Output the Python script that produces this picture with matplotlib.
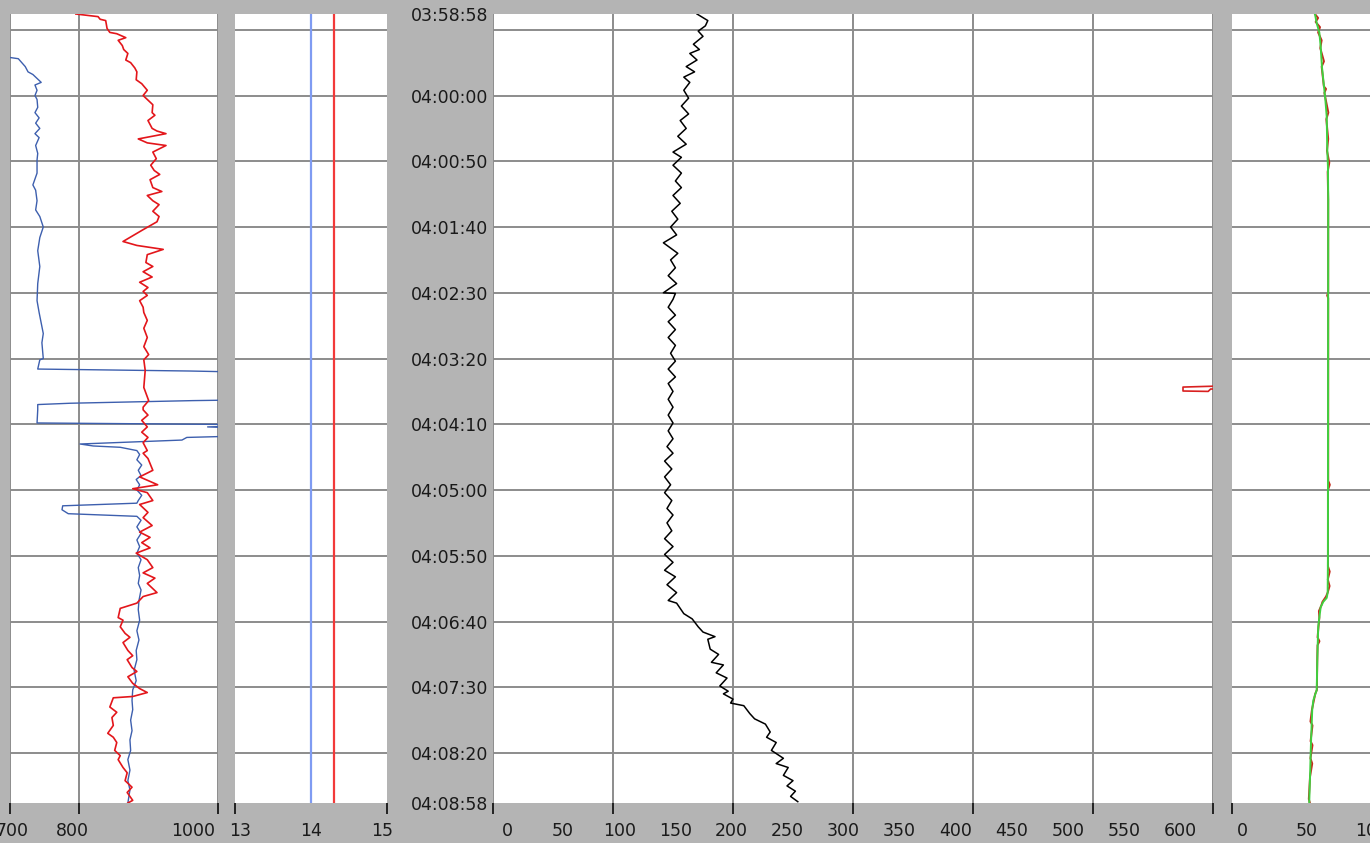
import matplotlib
matplotlib.use("Agg")
import matplotlib.pyplot as plt
import numpy as np

# depth axis is time: seconds after 03:58:58
start_clock = 3 * 3600 + 58 * 60 + 58
span = 600
grid_times = np.arange(12, span, 50)

# track 1 (700..1000)
red1_t = [0, 2, 4, 5, 11, 14, 15, 18, 20, 24, 27, 30, 35, 37, 41, 44, 50, 53, 58, 62,
          65, 69, 75, 77, 81, 87, 89, 91, 95, 98, 100, 105, 110, 115, 119, 122, 126, 132, 135, 138,
          142, 145, 150, 154, 158, 164, 173, 176, 178, 179, 183, 189, 192, 196, 200, 204, 208, 211, 214, 218,
          223, 227, 233, 239, 246, 253, 259, 263, 271, 284, 294, 299, 301, 305, 309, 314, 318, 322, 326, 332,
          334, 338, 347, 352, 358, 361, 364, 370, 373, 379, 383, 389, 394, 398, 402, 406, 410, 415, 421, 425,
          429, 433, 440, 443, 448, 452, 459, 461, 466, 471, 474, 478, 484, 488, 491, 497, 500, 504, 509, 513,
          516, 519, 520, 527, 531, 535, 541, 547, 550, 554, 560, 564, 567, 573, 577, 583, 588, 592, 598, 600]
red1_v = [795, 827, 830, 838, 840, 844, 854, 867, 856, 862, 864, 870, 867, 874, 880, 883, 882, 890, 898, 892,
          898, 906, 905, 909, 899, 905, 912, 925, 885, 898, 925, 906, 911, 903, 908, 916, 902, 906, 919, 898,
          906, 915, 906, 915, 912, 892, 863, 883, 909, 921, 898, 896, 906, 892, 905, 887, 899, 892, 898, 887,
          892, 893, 898, 893, 898, 893, 900, 893, 895, 893, 900, 892, 892, 899, 890, 898, 890, 899, 892, 898,
          892, 899, 906, 887, 913, 877, 898, 906, 887, 899, 892, 905, 887, 902, 890, 902, 882, 898, 906, 892,
          909, 898, 912, 892, 883, 859, 856, 863, 859, 866, 873, 863, 870, 877, 869, 876, 883, 870, 877, 887,
          898, 877, 849, 844, 854, 847, 849, 841, 849, 854, 851, 859, 856, 863, 869, 866, 876, 869, 877, 870]

blue1_t = [33, 34, 37, 40, 44, 46, 49, 52, 54, 58, 62, 65, 71, 75, 79, 83, 87, 91, 94, 100,
           106, 111, 121, 130, 134, 142, 149, 154, 162, 170, 180, 192, 205, 218, 227, 235, 243, 250, 262, 263,
           270, 271.5, 273, 293, 294, 296, 297, 301, 311, 312.5, 314, 316, 320, 322, 324, 327, 328.5, 329.5, 332, 335,
           339, 343, 347, 351, 354, 358, 362, 366, 370, 372, 374, 377, 380, 382, 385, 390, 395, 400, 405, 410,
           415, 421, 427, 433, 438, 446, 453, 461, 469, 476, 484, 491, 499, 507, 514, 522, 529, 537, 545, 552,
           560, 567, 575, 583, 590, 600]
blue1_v = [699, 712, 717, 722, 726, 733, 739, 745, 736, 739, 736, 739, 740, 736, 742, 737, 743, 736, 742, 737,
           740, 739, 739, 733, 737, 739, 737, 743, 748, 743, 740, 743, 740, 739, 742, 745, 748, 746, 748, 743,
           740, 960, 1100, 1100, 964, 787, 740, 740, 739, 1100, 985, 1100, 1100, 955, 948, 801, 820, 859, 883, 887,
           883, 890, 885, 889, 882, 887, 883, 890, 885, 883, 776, 775, 784, 883, 889, 883, 889, 883, 887, 883,
           889, 885, 887, 885, 889, 886, 885, 887, 883, 886, 882, 883, 879, 882, 877, 876, 877, 874, 876, 873,
           874, 870, 873, 870, 873, 870]

# track 2 (13..15): two constant readings
flat_t = [0, span]
blue2_v = [14.0, 14.0]
red2_v = [14.3, 14.3]

# track 3 (0..600)
black3_t = [0, 5, 9, 13, 17, 23, 27, 30, 35, 40, 44, 48, 52, 58, 64, 70, 76, 81, 87, 93,
            99, 105, 109, 115, 121, 127, 132, 138, 144, 150, 156, 162, 168, 174, 182, 187, 193, 199, 205, 212,
            212.5, 217, 223, 229, 234, 240, 246, 252, 258, 264, 270, 276, 281, 287, 293, 299, 305, 311, 317, 323,
            329, 334, 340, 346, 352, 358, 364, 370, 376, 381, 387, 393, 399, 405, 411, 417, 423, 428, 434, 440,
            446, 448, 456, 460, 466, 470, 473.5, 475.5, 483, 487, 493, 495, 501, 505, 511, 515, 517, 521, 524, 526,
            532, 536, 540, 546, 550, 554, 560, 566, 570, 573, 579, 583, 587, 591, 595, 599]
black3_v = [170, 179, 177, 171, 175, 167, 172, 164, 170, 161, 168, 159, 164, 159, 163, 157, 163, 156, 161, 154,
            161, 150, 157, 150, 157, 152, 157, 150, 156, 149, 154, 148, 153, 142, 154, 148, 152, 146, 153, 142,
            152, 150, 146, 152, 146, 152, 146, 152, 148, 152, 146, 152, 146, 150, 146, 150, 146, 150, 146, 150,
            145, 150, 143, 149, 143, 148, 143, 149, 145, 150, 145, 149, 143, 150, 143, 150, 143, 152, 145, 153,
            146, 153, 159, 166, 171, 175, 185, 179, 181, 188, 182, 192, 186, 195, 189, 196, 192, 200, 198, 209,
            214, 218, 227, 231, 228, 236, 232, 242, 236, 246, 242, 250, 245, 252, 248, 254]
red3_t = [282, 283.7, 286.7, 287, 285.2, 284.8]
red3_v = [640, 575, 575, 596, 598, 640]

# track 4 (0..150)
green4_t = [0, 7, 14, 25, 40, 55, 65, 78, 103, 116, 141, 415, 440, 444, 447, 451, 459, 466, 491, 514,
            518, 522, 529, 554, 580, 600]
green4_v = [60.7, 62.0, 63.9, 64.9, 65.8, 67.3, 68.3, 69.3, 69.7, 70.2, 70.4, 70.2, 70.0, 69.3, 66.8, 64.9,
            63.9, 63.1, 62.4, 62.0, 60.7, 59.5, 58.7, 57.8, 57.1, 56.5]
red4_t = [0, 3, 6, 10, 14, 20, 26, 36, 40, 55, 57, 60, 75, 80, 95, 104, 113, 120, 141, 212,
          214, 216, 355, 358, 362, 420, 424, 430, 435, 440, 443, 447, 450, 454, 459, 474, 477, 480, 491, 514,
          517, 520, 529, 538, 541, 553, 556, 566, 570, 580, 597, 600]
red4_v = [60.7, 63.0, 61.2, 64.4, 63.0, 65.6, 64.6, 67.3, 65.6, 67.2, 68.8, 67.6, 70.5, 69.0, 70.4, 69.5,
          71.2, 70.0, 70.4, 70.4, 69.6, 70.4, 70.4, 71.6, 70.2, 70.2, 71.5, 70.1, 71.4, 70.0, 68.8, 66.2,
          65.3, 63.6, 63.9, 62.6, 64.0, 62.6, 62.4, 62.1, 60.9, 60.3, 58.5, 57.4, 58.9, 57.5, 58.9, 57.4,
          58.7, 57.1, 56.2, 57.0]

labels1 = [700, 800, 1000]
labels2 = [13, 14, 15]
labels3 = list(range(0, 601, 50))
labels4 = [0, 50, 100]


def clock(sec):
    s = start_clock + int(sec)
    return "%02d:%02d:%02d" % (s // 3600, s // 60 % 60, s % 60)


def squeezed(values, first, last):
    # the scale labels sit a little inside the true tick positions
    values = np.asarray(values, float)
    return first + (values - values[0]) * (last - first) / (values[-1] - values[0])


bg = "#b4b4b4"
grid_c = "#8c8c8c"
ink = "#1a1a1a"
fs = 12.5
W, H = 1370, 843
top_px, bot_px = 14, 803

fig = plt.figure(figsize=(W / 100, H / 100), dpi=100, facecolor=bg)


def track(left_px, width_px, xlim, major, labels, label_pos, xgrid):
    ax = fig.add_axes([left_px / W, 1 - bot_px / H, width_px / W, (bot_px - top_px) / H])
    ax.set_facecolor("white")
    for s in ax.spines.values():
        s.set_visible(False)
    ax.set_xlim(*xlim)
    ax.set_ylim(span, 0)
    ax.set_axisbelow(True)
    ax.set_yticks(grid_times, labels=[""] * len(grid_times))
    ax.tick_params(axis="y", which="both", length=0)
    ax.grid(True, axis="y", color=grid_c, lw=1.4)
    ax.set_xticks(major, labels=[""] * len(major))
    ax.set_xticks(label_pos, labels=[str(v) for v in labels], minor=True)
    ax.tick_params(axis="x", which="major", length=8, width=1.4, color="#222222", direction="out")
    ax.tick_params(axis="x", which="minor", length=0, pad=14, labelsize=fs, labelcolor=ink)
    if xgrid:
        ax.grid(True, axis="x", which="major", color=grid_c, lw=1.4)
    return ax


ax1 = track(10, 208, (700, 1000), [700, 800, 1000], labels1,
            squeezed(labels1, 703.5, 964.5), True)
ax1.plot(blue1_v, blue1_t, color="#3d5fae", lw=1.0)
ax1.plot(red1_v, red1_t, color="#e3161b", lw=1.2)

ax2 = track(235, 152, (13, 15), [13, 15], labels2,
            squeezed(labels2, 13.07, 14.94), False)
ax2.plot(blue2_v, flat_t, color="#7f9bf2", lw=1.6)
ax2.plot(red2_v, flat_t, color="#f23a3a", lw=1.6)

ax3 = track(493, 720, (0, 600), list(range(0, 601, 100)), labels3,
            squeezed(labels3, 11.7, 572.5), True)
ax3.plot(black3_v, black3_t, color="black", lw=1.1)
ax3.plot(red3_v, red3_t, color="#d92020", lw=1.2)
# time scale sits in the gap left of the wide track
ax3.set_yticks(grid_times, labels=[""] + [clock(t) for t in grid_times[1:]])
ax3.set_yticks([0, span], labels=[clock(0), clock(span)], minor=True)
ax3.tick_params(axis="y", which="both", length=0, pad=3.5, labelsize=fs, labelcolor=ink)

ax4 = track(1232, 205, (0, 150), [0, 150], labels4,
            squeezed(labels4, 7.3, 102.4), False)
ax4.plot(red4_v, red4_t, color="#c42a1c", lw=1.4)
ax4.plot(green4_v, green4_t, color="#3fd03f", lw=1.4)

fig.savefig("out.png", dpi=100, facecolor=bg)
